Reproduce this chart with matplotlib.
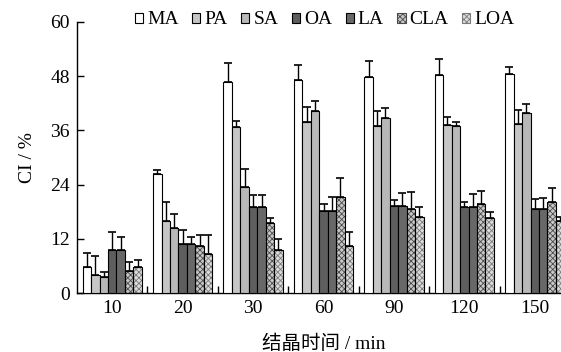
import numpy as np
import matplotlib
matplotlib.use("Agg")
import matplotlib.pyplot as plt
from matplotlib.patches import Patch

plt.rcParams['font.family'] = ['Liberation Serif', 'Noto Sans CJK SC']
plt.rcParams['hatch.linewidth'] = 0.6

times = ['10', '20', '30', '60', '90', '120', '150']
acids = ['MA', 'PA', 'SA', 'OA', 'LA', 'CLA', 'LOA']

ma = [5.7, 26.3, 46.7, 47.1, 47.9, 48.2, 48.5]
pa = [4.0, 16.0, 36.7, 37.9, 36.9, 37.2, 37.5]
sa = [3.5, 14.3, 23.4, 40.4, 38.7, 36.9, 39.8]
oa = [9.5, 10.8, 19.0, 18.2, 19.2, 19.0, 18.7]
la = [9.5, 10.8, 19.0, 18.2, 19.2, 19.0, 18.7]
cla = [4.9, 10.5, 15.6, 21.3, 18.7, 19.7, 20.1]
loa = [5.8, 8.6, 9.5, 10.4, 16.9, 16.7, 15.9]

ma_sd = [3.1, 0.9, 4.3, 3.4, 3.5, 3.7, 1.6]
pa_sd = [4.2, 4.1, 1.3, 3.3, 3.4, 1.8, 3.0]
sa_sd = [1.1, 3.3, 4.1, 2.0, 2.2, 1.0, 2.0]
oa_sd = [4.0, 3.1, 2.8, 1.6, 1.4, 1.1, 2.2]
la_sd = [3.0, 1.7, 2.8, 3.1, 3.0, 2.9, 2.4]
cla_sd = [2.0, 2.3, 1.1, 4.2, 3.7, 2.9, 3.1]
loa_sd = [1.6, 4.2, 2.4, 3.2, 2.1, 1.3, 1.0]

means = [ma, pa, sa, oa, la, cla, loa]
sds = [ma_sd, pa_sd, sa_sd, oa_sd, la_sd, cla_sd, loa_sd]

# fill, hatch, hatch colour per acid
styles = [
    ('white', None, None),
    ('#c6c6c6', None, None),
    ('#b8b8b8', None, None),
    ('#5e5e5e', None, None),
    ('#686868', None, None),
    ('#c8c8c8', 'xxxxxx', '#4a4a4a'),
    ('#dcdcdc', 'xxxxxx', '#7a7a7a'),
]

fig = plt.figure(figsize=(5.61, 3.52), dpi=100)
ax = fig.add_axes([77 / 561, 59 / 352, 493 / 561, 271 / 352])

x = np.arange(len(times))
w = 0.12
handles = []
for j, (vals, err, (fc, hatch, hc)) in enumerate(zip(means, sds, styles)):
    pos = x + (j - 3) * w
    if hatch:
        ax.bar(pos, vals, w, color=fc, hatch=hatch, edgecolor=hc, linewidth=0, zorder=2)
        ax.bar(pos, vals, w, fill=False, edgecolor='black', linewidth=0.8, zorder=3)
    else:
        ax.bar(pos, vals, w, color=fc, edgecolor='black', linewidth=0.8, zorder=3)
    ax.errorbar(pos, vals, yerr=[np.zeros(len(vals)), err], fmt='none',
                ecolor='black', elinewidth=1, capsize=3, capthick=1.2, zorder=4)
    if hatch:
        handles.append(Patch(facecolor=fc, hatch=hatch, edgecolor=hc, linewidth=0.8))
    else:
        handles.append(Patch(facecolor=fc, edgecolor='black', linewidth=0.8))

ax.set_xlim(-0.5, 6.5)
ax.set_ylim(0, 60)
ax.set_yticks(np.arange(0, 61, 12))
ax.set_xticks(x[:-1] + 0.5)
ax.set_xticklabels([])
ax.set_xticks(x, minor=True)
ax.set_xticklabels(times, minor=True)
ax.tick_params(axis='x', which='major', direction='in', length=5, width=1)
ax.tick_params(axis='x', which='minor', length=0, pad=5, labelsize=14)
ax.tick_params(axis='y', direction='in', length=5, width=1, labelsize=14, pad=5)
for s in ['top', 'right']:
    ax.spines[s].set_visible(False)
for s in ['left', 'bottom']:
    ax.spines[s].set_linewidth(1)

ax.set_ylabel('CI / %', fontsize=14, labelpad=10)
ax.set_xlabel('结晶时间 / min', fontsize=14)
ax.xaxis.set_label_coords(0.5, -0.155)

leg = fig.legend(handles, acids, loc='center left', bbox_to_anchor=(135 / 561, 1 - 20 / 352),
                 ncol=7, frameon=False, fontsize=14, handlelength=0.42, handleheight=0.42,
                 handletextpad=0.2, columnspacing=0.7, borderaxespad=0, borderpad=0)

fig.savefig('out.png', dpi=100)
